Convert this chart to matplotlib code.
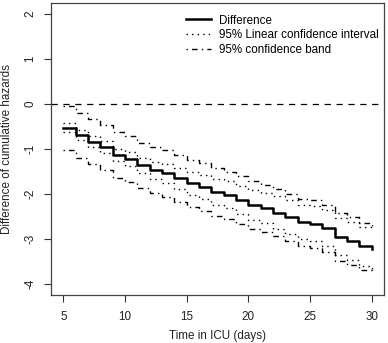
import matplotlib
matplotlib.use("Agg")
import matplotlib.pyplot as plt

plt.rcParams['font.family'] = ['Liberation Sans', 'DejaVu Sans']

time_days = [5, 6, 7, 8, 9, 10, 11, 12, 13, 14, 15, 16, 17, 18, 19, 20,
             21, 22, 23, 24, 25, 26, 27, 28, 29, 30]
difference = [-0.53, -0.69, -0.84, -0.96, -1.13, -1.22, -1.36, -1.47, -1.54, -1.65,
              -1.76, -1.84, -1.95, -2.02, -2.13, -2.24, -2.31, -2.41, -2.51, -2.62,
              -2.66, -2.76, -2.95, -3.04, -3.16, -3.23]
ci_upper = [-0.43, -0.58, -0.72, -0.83, -0.99, -1.07, -1.19, -1.28, -1.33, -1.42,
            -1.51, -1.57, -1.66, -1.72, -1.82, -1.91, -1.97, -2.05, -2.14, -2.24,
            -2.27, -2.36, -2.54, -2.62, -2.73, -2.78]
ci_lower = [-0.63, -0.80, -0.96, -1.09, -1.27, -1.37, -1.53, -1.66, -1.75, -1.88,
            -2.01, -2.11, -2.24, -2.32, -2.44, -2.57, -2.65, -2.77, -2.88, -3.00,
            -3.05, -3.16, -3.36, -3.46, -3.59, -3.68]
band_upper = [-0.04, -0.19, -0.34, -0.46, -0.63, -0.72, -0.86, -0.96, -1.03, -1.14,
              -1.25, -1.32, -1.43, -1.50, -1.61, -1.72, -1.79, -1.89, -1.99, -2.10,
              -2.14, -2.24, -2.43, -2.52, -2.64, -2.71]
band_lower = [-1.03, -1.19, -1.34, -1.47, -1.64, -1.73, -1.87, -1.98, -2.06, -2.17,
              -2.28, -2.37, -2.48, -2.55, -2.66, -2.77, -2.84, -2.94, -3.04, -3.15,
              -3.19, -3.29, -3.48, -3.57, -3.69, -3.76]

x_ticks = [5, 10, 15, 20, 25, 30]
y_ticks = [-4, -3, -2, -1, 0, 1, 2]
legend_labels = ["Difference", "95% Linear confidence interval", "95% confidence band"]

fig = plt.figure(figsize=(3.88, 3.43), dpi=100)
ax = fig.add_axes([51/388, 1-295/343, (384-51)/388, (295-3)/343])

fs = 8.4
dotted = (0, (1, 3))
dashdot = (0, (1, 3, 4, 3))

ax.axhline(0, color='black', lw=0.9, linestyle=(0, (5, 4.5)))
l1, = ax.step(time_days, difference, where='post', color='black', lw=1.8)
l2, = ax.step(time_days, ci_upper, where='post', color='black', lw=1.0, linestyle=dotted)
ax.step(time_days, ci_lower, where='post', color='black', lw=1.0, linestyle=dotted)
l3, = ax.step(time_days, band_upper, where='post', color='black', lw=1.0, linestyle=dashdot)
ax.step(time_days, band_lower, where='post', color='black', lw=1.0, linestyle=dashdot)

ax.set_xlim(4, 31)
ax.set_ylim(-4.24, 2.24)
ax.set_xticks(x_ticks)
ax.set_yticks(y_ticks)
ax.set_xticklabels([str(v) for v in x_ticks], fontsize=fs, color='#222222')
ax.set_yticklabels([str(v) for v in y_ticks], fontsize=fs, color='#222222',
                   rotation=90, va='center')
ax.tick_params(axis='x', direction='out', length=5, width=0.8, color='#333333', pad=6.5)
ax.tick_params(axis='y', direction='out', length=5, width=0.8, color='#333333', pad=5.5)
for s in ax.spines.values():
    s.set_color('#444444')
    s.set_linewidth(0.9)

ax.set_xlabel("Time in ICU (days)", fontsize=fs, color='#222222', labelpad=5)
ax.set_ylabel("Difference of cumulative hazards", fontsize=fs, color='#222222', labelpad=8)

ax.legend([l1, l2, l3], legend_labels, loc='upper right', frameon=False,
          fontsize=fs, handlelength=2.14, handletextpad=0.69, labelspacing=0.25,
          borderaxespad=0.0, borderpad=0.0,
          bbox_to_anchor=(1 - 5/333, 1 - 11.5/292))

fig.savefig("out.png", dpi=100)
